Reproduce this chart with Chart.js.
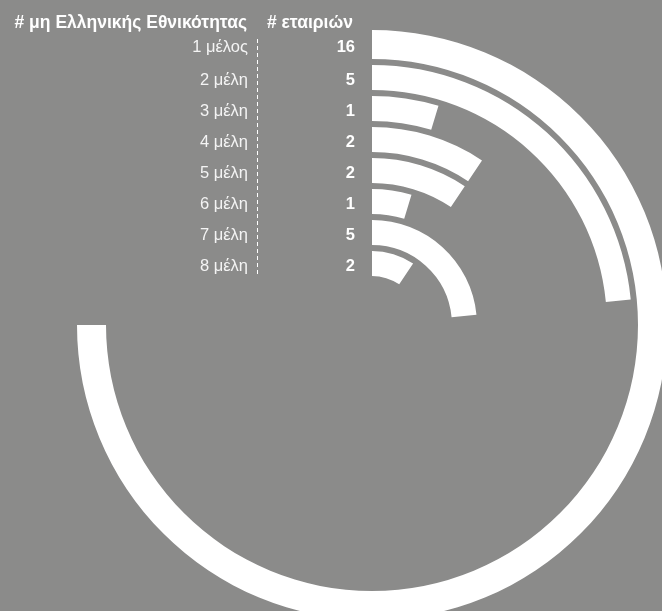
<!DOCTYPE html>
<html>
<head>
<meta charset="utf-8">
<script src="https://cdn.jsdelivr.net/npm/chart.js@4"></script>
<style>
  html, body { margin: 0; padding: 0; background: #8b8b8a; overflow: hidden; width: 662px; height: 611px; }
  #wrap { position: absolute; left: 0; top: 0; }
</style>
</head>
<body>
<div id="wrap"><canvas id="radial" width="744" height="650"></canvas></div>
<script>
// Μέλη μη ελληνικής εθνικότητας -> αριθμός εταιριών
let categories = ["1 μέλος", "2 μέλη", "3 μέλη", "4 μέλη", "5 μέλη", "6 μέλη", "7 μέλη", "8 μέλη"];
let companies = [16, 5, 1, 2, 2, 1, 5, 2];
let headerLeft = "# μη Ελληνικής Εθνικότητας";
let headerRight = "# εταιριών";

let maxValue = Math.max(...companies);

// κάθε δακτύλιος = ένα dataset, με κενό dataset ανάμεσα για την απόσταση
let datasets = [];
companies.forEach((v, i) => {
  if (i > 0) {
    datasets.push({ data: [1], backgroundColor: ["rgba(0,0,0,0)"], weight: 6, spacer: true });
  }
  datasets.push({
    label: categories[i],
    data: [v, maxValue - v],
    backgroundColor: ["#ffffff", "rgba(0,0,0,0)"],
    weight: i === 0 ? 29 : 25,
  });
});

// ετικέτες αριστερά στο ύψος κάθε δακτυλίου
const labelsPlugin = {
  id: "labels",
  afterDatasetsDraw(chart) {
    const ctx = chart.ctx;
    ctx.save();
    ctx.fillStyle = "#ffffff";
    ctx.textBaseline = "middle";
    ctx.font = "bold 17.5px 'Liberation Sans', Arial, sans-serif";
    ctx.textAlign = "right";
    ctx.fillText(headerLeft, 247, 23);
    ctx.fillText(headerRight, 353, 23);

    let ringIndex = 0;
    let top = null, bottom = null;
    chart.data.datasets.forEach((ds, di) => {
      if (ds.spacer) return;
      const arc = chart.getDatasetMeta(di).data[0];
      const y = arc.y - (arc.innerRadius + arc.outerRadius) / 2;
      if (top === null) top = arc.y - arc.outerRadius + 9;
      bottom = arc.y - arc.innerRadius;
      ctx.fillStyle = "#f4f4f4";
      ctx.font = "16.5px 'Liberation Sans', Arial, sans-serif";
      ctx.fillText(categories[ringIndex], 248, y + 3);
      ctx.fillStyle = "#ffffff";
      ctx.font = "bold 16.5px 'Liberation Sans', Arial, sans-serif";
      ctx.fillText(String(companies[ringIndex]), 355, y + 3);
      ringIndex++;
    });

    ctx.strokeStyle = "#ffffff";
    ctx.lineWidth = 1;
    ctx.setLineDash([4, 3]);
    ctx.beginPath();
    ctx.moveTo(257.5, top);
    ctx.lineTo(257.5, bottom);
    ctx.stroke();
    ctx.restore();
  },
};

new Chart(document.getElementById("radial"), {
  type: "doughnut",
  data: { labels: ["value", "rest"], datasets: datasets },
  options: {
    responsive: false,
    animation: false,
    rotation: 0,
    circumference: 270,
    cutout: "16.6%",
    layout: { padding: 30 },
    elements: { arc: { borderWidth: 0, hoverOffset: 0, offset: 0 } },
    plugins: {
      legend: { display: false },
      tooltip: { enabled: false },
    },
    events: [],
  },
  plugins: [labelsPlugin],
});
</script>
</body>
</html>
